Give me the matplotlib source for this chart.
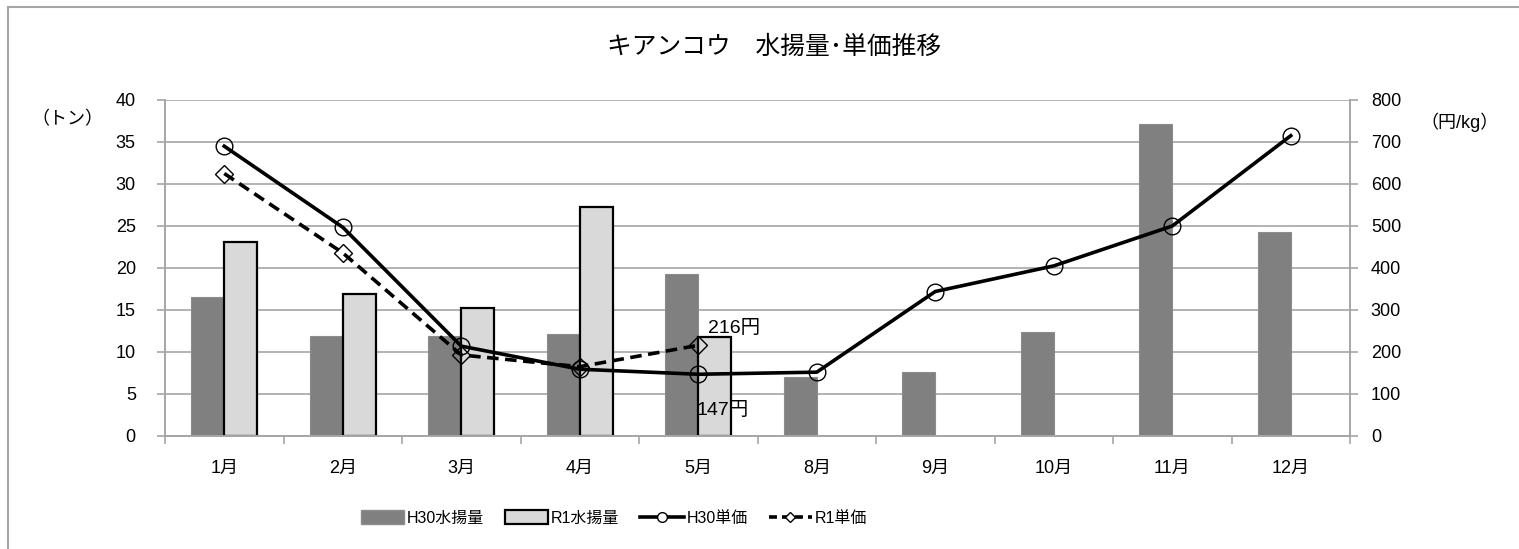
"""キアンコウの水揚量と単価の推移グラフ."""
import numpy as np
import matplotlib.pyplot as plt
from matplotlib.patches import Patch
from matplotlib.lines import Line2D

plt.rcParams['font.family'] = ['Liberation Sans', 'Noto Sans CJK JP', 'DejaVu Sans']

# 月ごとのデータ
months = ['1月', '2月', '3月', '4月', '5月', '8月', '9月', '10月', '11月', '12月']
h30_catch = [16.6, 11.9, 11.9, 12.1, 19.3, 7.0, 7.6, 12.4, 37.1, 24.3]
r1_catch = [23.1, 16.9, 15.2, 27.3, 11.8]
h30_price = [690, 497, 214, 159, 147, 152, 344, 405, 500, 715]
r1_price = [625, 436, 193, 165, 216]

grid_c = '#a6a6a6'

fig = plt.figure(figsize=(15.19, 5.49), dpi=100)
ax = fig.add_axes([165 / 1519, 1 - 436 / 549, 1185 / 1519, 336 / 549])
ax2 = ax.twinx()

x = np.arange(len(months))
xr = np.arange(len(r1_catch))
w = 0.28

# 棒グラフ（水揚量）
ax.bar(x - w / 2, h30_catch, w, color='#808080', edgecolor='#8c8c8c',
       linewidth=0.8, zorder=2)
ax.bar(xr + w / 2, r1_catch, w, color='#d9d9d9', edgecolor='black',
       linewidth=1.6, zorder=2)

# 折れ線（単価）
ax2.plot(x, h30_price, color='black', lw=2.6, marker='o', ms=12,
         mfc='none', mec='black', mew=1.0, zorder=3)
ax2.plot(xr, r1_price, color='black', lw=2.6, ls=(0, (3.2, 1.8)),
         marker='D', ms=9, mfc='none', mec='black', mew=1.0, zorder=3)

# データラベル
ax2.annotate(f'{r1_price[4]}円', xy=(4, r1_price[4]), xytext=(7, 12),
             textcoords='offset points', ha='left', va='center', fontsize=14)
ax2.annotate(f'{h30_price[4]}円', xy=(4, h30_price[4]), xytext=(-1, -26),
             textcoords='offset points', ha='left', va='center', fontsize=14)

# 軸の設定
ax.set_xlim(-0.5, len(months) - 0.5)
ax.set_ylim(0, 40)
ax.set_yticks(np.arange(0, 41, 5))
ax2.set_ylim(0, 800)
ax2.set_yticks(np.arange(0, 801, 100))
ax.set_xticks(x)
ax.set_xticklabels(months, fontsize=13)
ax.set_xticks(np.arange(-0.5, len(months)), minor=True)
ax.tick_params(axis='x', which='major', length=0, pad=17)
ax.tick_params(axis='x', which='minor', length=6, color=grid_c, width=1.2,
               direction='out')
ax.tick_params(axis='y', labelsize=13, length=6, color=grid_c, width=1.2,
               pad=15)
ax2.tick_params(axis='y', labelsize=13, length=6, color=grid_c, width=1.2,
                pad=9)

ax.yaxis.grid(True, color=grid_c, lw=1.2, zorder=0)
ax.set_axisbelow(True)
for a in (ax, ax2):
    a.spines['top'].set_visible(False)
    for s in ('left', 'right', 'bottom'):
        a.spines[s].set_color(grid_c)
        a.spines[s].set_linewidth(1.2)

fig.text(67 / 1519, 1 - 120 / 549, '（トン）', ha='center', va='center',
         fontsize=13)
fig.text(1460 / 1519, 1 - 122 / 549, '（円/kg）', ha='center', va='center',
         fontsize=13)
fig.text(774 / 1519, 1 - 47 / 549, 'キアンコウ　水揚量･単価推移',
         ha='center', va='center', fontsize=17.8)

# 凡例
handles = [
    Patch(facecolor='#808080', edgecolor='#8c8c8c', label='H30水揚量'),
    Patch(facecolor='#d9d9d9', edgecolor='black', linewidth=1.6,
          label='R1水揚量'),
    Line2D([], [], color='black', lw=2.6, marker='o', ms=7, mfc='white',
           mec='black', mew=1.0, label='H30単価'),
    Line2D([], [], color='black', lw=2.6, ls=(0, (2.2, 1.4)), marker='D',
           ms=5, mfc='white', mec='black', mew=1.0, label='R1単価'),
]
fig.legend(handles=handles, loc='center', ncol=4, frameon=False,
           bbox_to_anchor=(614 / 1519, 1 - 518 / 549), fontsize=11.5,
           handlelength=2.7, handleheight=0.95, handletextpad=0.2,
           columnspacing=1.3, numpoints=1)

# 外枠
fig.add_artist(Line2D([8 / 1519, 8 / 1519], [0, 1 - 7 / 549],
                      transform=fig.transFigure, color='#a6a6a6', lw=1.5))
fig.add_artist(Line2D([8 / 1519, 1], [1 - 7 / 549, 1 - 7 / 549],
                      transform=fig.transFigure, color='#a6a6a6', lw=1.5))

fig.savefig('out.png', dpi=100)
